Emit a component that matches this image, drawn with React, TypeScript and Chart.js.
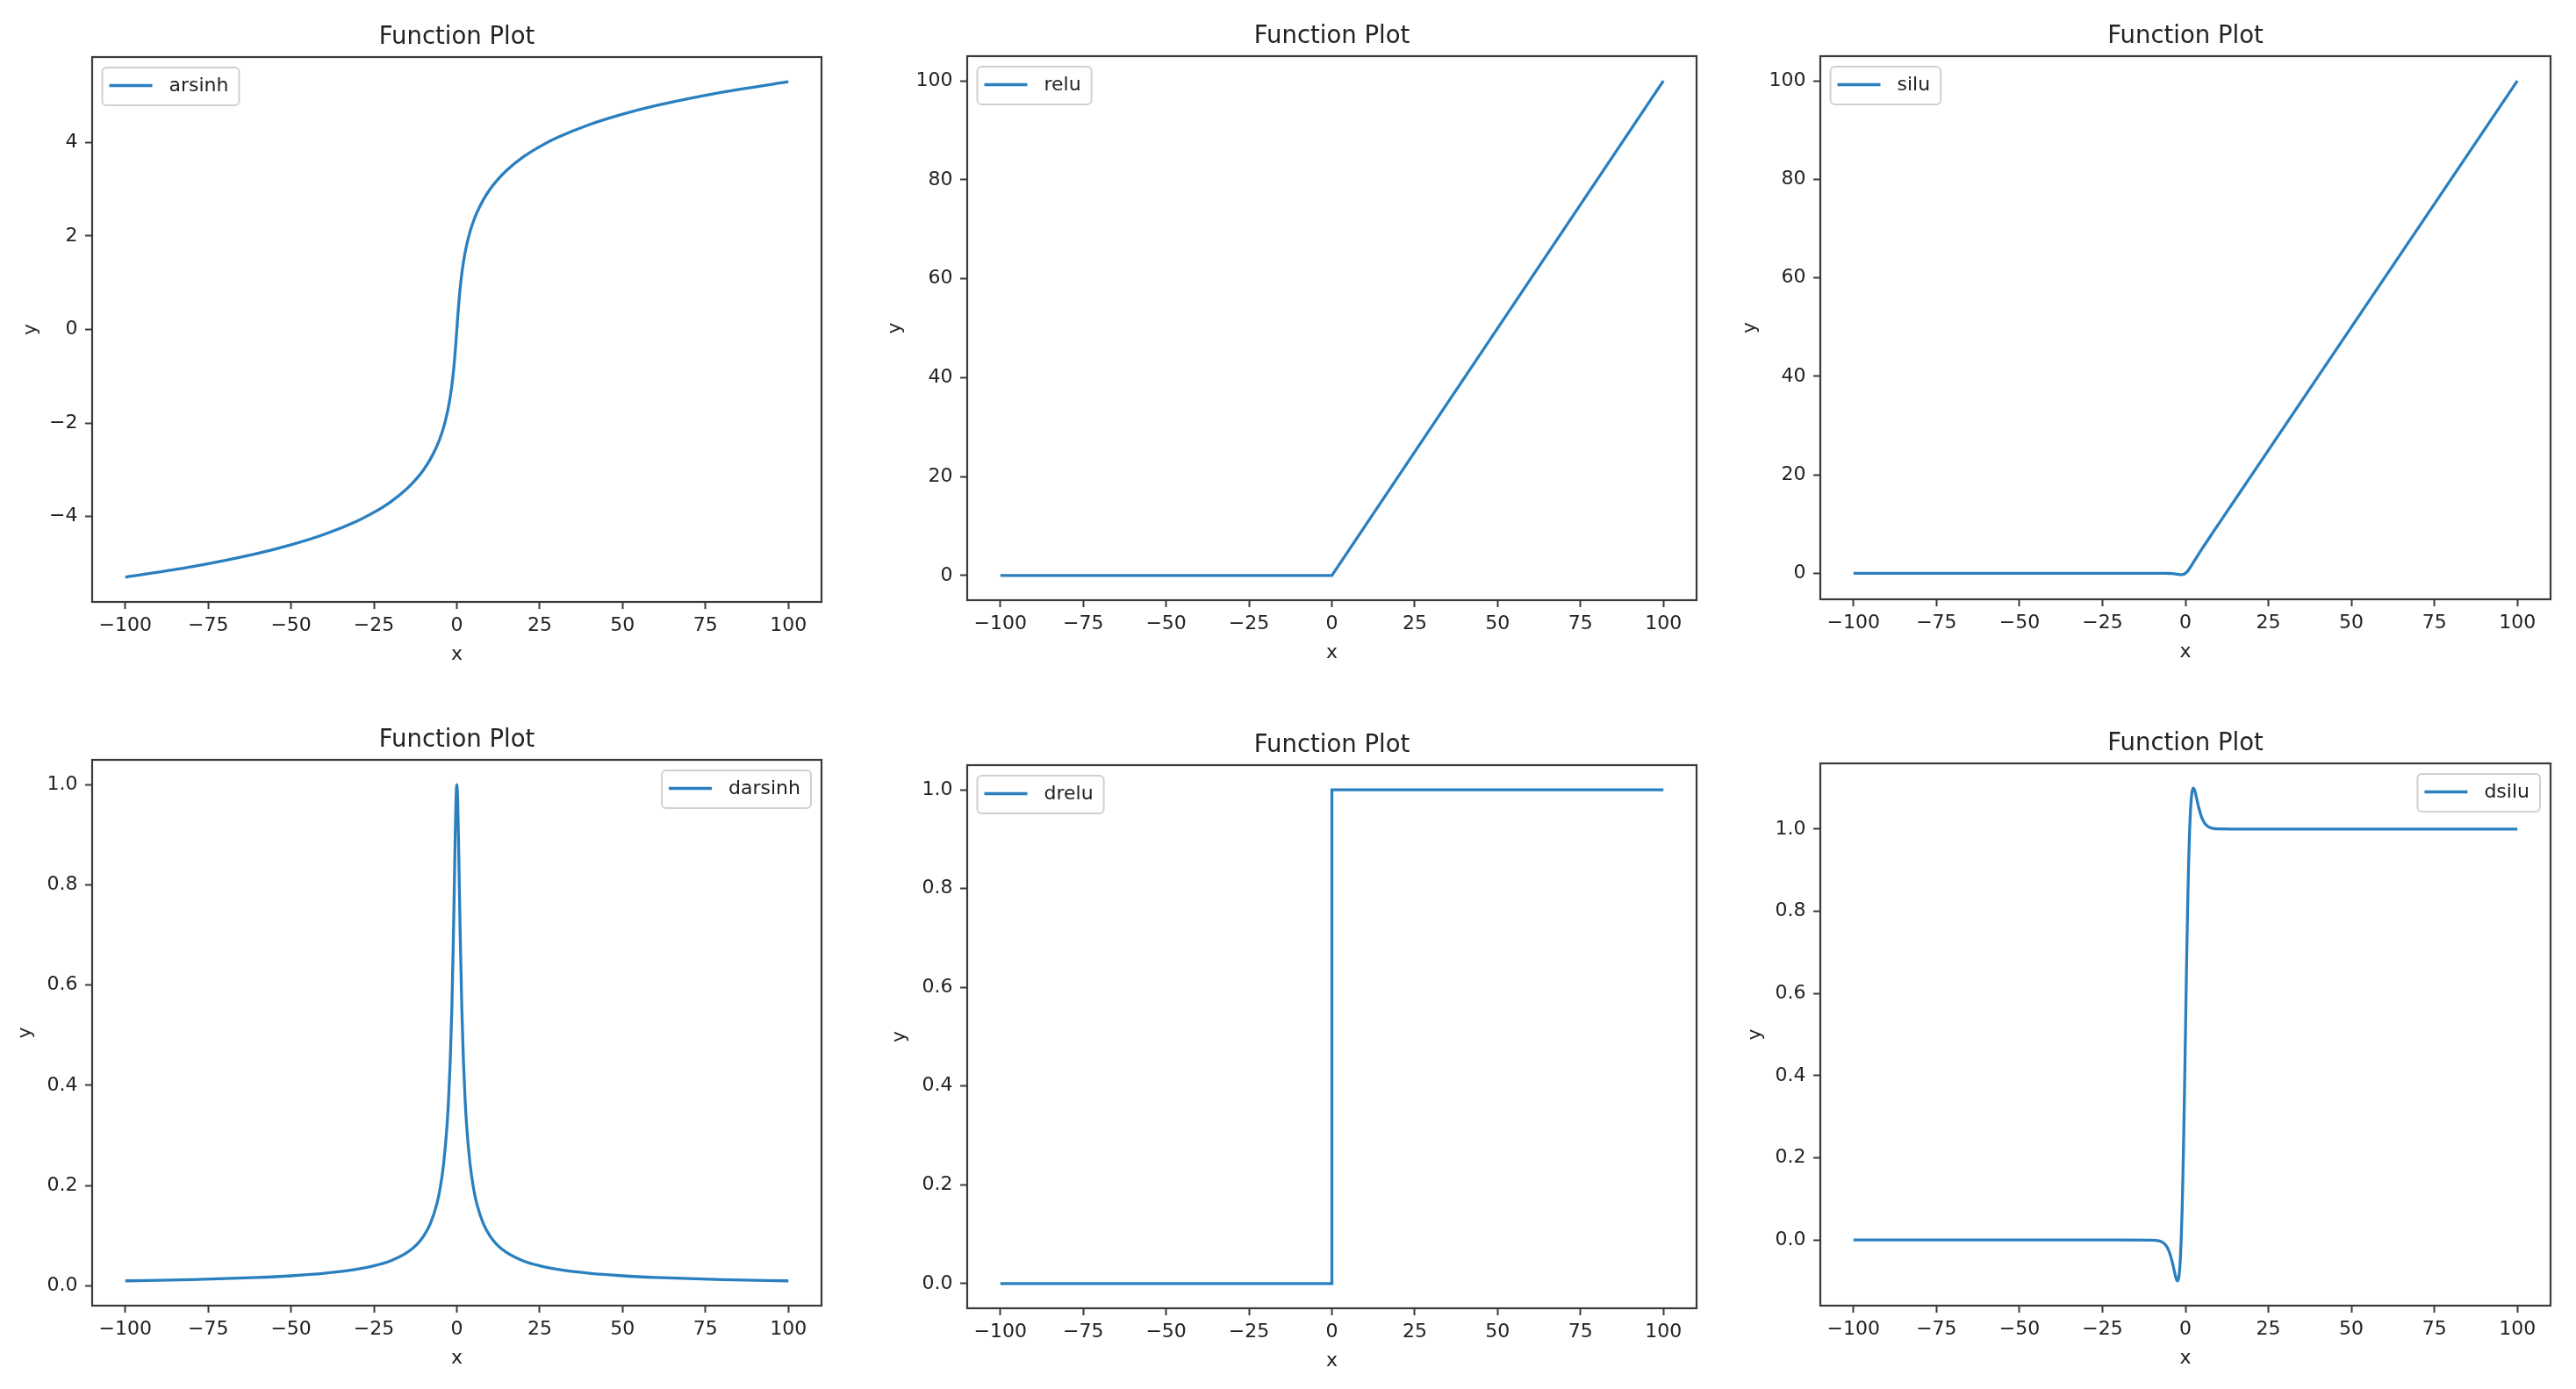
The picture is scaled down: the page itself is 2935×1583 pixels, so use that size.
import React, { useEffect, useRef } from "react";
import { Chart, registerables } from "chart.js";

Chart.register(...registerables);
Chart.defaults.font.family = '"DejaVu Sans"';

// ---------- text ----------
const TITLE = "Function Plot";
const X_LABEL = "x";
const Y_LABEL = "y";

// ---------- shared x axis ----------
const X_TICKS = [-100, -75, -50, -25, 0, 25, 50, 75, 100];
const X_TICK_LABELS = ["\u2212100", "\u221275", "\u221250", "\u221225", "0", "25", "50", "75", "100"];
const X_MIN = -110;
const X_MAX = 110;

// ---------- arsinh ----------
const ARSINH_X = [-100, -80, -60, -50, -40, -30, -25, -20, -15, -12, -10, -8, -6, -5, -4, -3, -2.5, -2, -1.5, -1, -0.75, -0.5, -0.25, 0,
  0.25, 0.5, 0.75, 1, 1.5, 2, 2.5, 3, 4, 5, 6, 8, 10, 12, 15, 20, 25, 30, 40, 50, 60, 80, 100];
const ARSINH_Y = [-5.2983, -5.0752, -4.7875, -4.6053, -4.3822, -4.0946, -3.9124, -3.6895, -3.4023, -3.1798, -2.9982, -2.7765, -2.4918, -2.3124, -2.0947, -1.8184, -1.6472, -1.4436, -1.1948, -0.8814, -0.6931, -0.4812, -0.2475, 0,
  0.2475, 0.4812, 0.6931, 0.8814, 1.1948, 1.4436, 1.6472, 1.8184, 2.0947, 2.3124, 2.4918, 2.7765, 2.9982, 3.1798, 3.4023, 3.6895, 3.9124, 4.0946, 4.3822, 4.6053, 4.7875, 5.0752, 5.2983];
const ARSINH_Y_TICKS = [-4, -2, 0, 2, 4];
const ARSINH_Y_TICK_LABELS = ["\u22124", "\u22122", "0", "2", "4"];

// ---------- relu ----------
const RELU_X = [-100, 0, 100];
const RELU_Y = [0, 0, 100];
const RELU_Y_TICKS = [0, 20, 40, 60, 80, 100];
const RELU_Y_TICK_LABELS = ["0", "20", "40", "60", "80", "100"];

// ---------- silu ----------
const SILU_X = [-100, -20, -10, -8, -6, -5, -4, -3, -2.5, -2, -1.5, -1.25, -1, -0.5, 0, 0.5, 1, 1.5, 2, 2.5, 3, 4, 5, 6, 8, 10, 20, 100];
const SILU_Y = [0, 0, -0.0005, -0.0027, -0.0148, -0.0335, -0.0719, -0.1423, -0.1896, -0.2384, -0.2736, -0.2784, -0.2689, -0.1888, 0, 0.3112, 0.7311, 1.2264, 1.7616, 2.3104, 2.8577, 3.9281, 4.9665, 5.9852, 7.9973, 9.9995, 20, 100];
const SILU_Y_TICKS = [0, 20, 40, 60, 80, 100];
const SILU_Y_TICK_LABELS = ["0", "20", "40", "60", "80", "100"];

// ---------- darsinh ----------
const DARSINH_X = [-100, -80, -60, -50, -40, -30, -25, -20, -15, -12, -10, -8, -6, -5, -4, -3, -2.5, -2, -1.5, -1, -0.75, -0.5, -0.25, 0,
  0.25, 0.5, 0.75, 1, 1.5, 2, 2.5, 3, 4, 5, 6, 8, 10, 12, 15, 20, 25, 30, 40, 50, 60, 80, 100];
const DARSINH_Y = [0.01, 0.0125, 0.0167, 0.02, 0.025, 0.0333, 0.04, 0.0499, 0.0665, 0.083, 0.0995, 0.124, 0.1644, 0.1961, 0.2425, 0.3162, 0.3714, 0.4472, 0.5547, 0.7071, 0.8, 0.8944, 0.9701, 1,
  0.9701, 0.8944, 0.8, 0.7071, 0.5547, 0.4472, 0.3714, 0.3162, 0.2425, 0.1961, 0.1644, 0.124, 0.0995, 0.083, 0.0665, 0.0499, 0.04, 0.0333, 0.025, 0.02, 0.0167, 0.0125, 0.01];
const UNIT_Y_TICKS = [0, 0.2, 0.4, 0.6, 0.8, 1.0];
const UNIT_Y_TICK_LABELS = ["0.0", "0.2", "0.4", "0.6", "0.8", "1.0"];

// ---------- drelu ----------
const DRELU_X = [-100, 0, 0, 100];
const DRELU_Y = [0, 0, 1, 1];

// ---------- dsilu ----------
const DSILU_X = [-100, -20, -10, -8, -7, -6, -5, -4, -3.5, -3, -2.8, -2.4, -2, -1.75, -1.5, -1.25, -1, -0.75, -0.5, -0.25, 0,
  0.25, 0.5, 0.75, 1, 1.25, 1.5, 1.75, 2, 2.4, 2.8, 3, 3.5, 4, 5, 6, 7, 8, 10, 20, 100];
const DSILU_Y = [0, 0, -0.0004, -0.0023, -0.0055, -0.0123, -0.0265, -0.0527, -0.0703, -0.0881, -0.094, -0.0998, -0.0908, -0.0727, -0.0413, 0.0063, 0.0723, 0.1574, 0.26, 0.3763, 0.5,
  0.6237, 0.74, 0.8426, 0.9277, 0.9937, 1.0413, 1.0727, 1.0908, 1.0998, 1.094, 1.0881, 1.0703, 1.0527, 1.0265, 1.0123, 1.0055, 1.0023, 1.0004, 1, 1];

// ---------- panel definitions ----------
type Box = { l: number; t: number; r: number; b: number };
type PanelSpec = {
  label: string;
  xs: number[];
  ys: number[];
  yTicks: number[];
  yTickLabels: string[];
  yMin: number;
  yMax: number;
  smooth: boolean;
  legendSide: "left" | "right";
  box: Box;
  yLabelOffset: number;
};

const PANELS: PanelSpec[] = [
  { label: "arsinh", xs: ARSINH_X, ys: ARSINH_Y, yTicks: ARSINH_Y_TICKS, yTickLabels: ARSINH_Y_TICK_LABELS, yMin: -5.828, yMax: 5.828, smooth: true, legendSide: "left", box: { l: 105, t: 65, r: 936, b: 686 }, yLabelOffset: 70 },
  { label: "relu", xs: RELU_X, ys: RELU_Y, yTicks: RELU_Y_TICKS, yTickLabels: RELU_Y_TICK_LABELS, yMin: -5, yMax: 105, smooth: false, legendSide: "left", box: { l: 1102, t: 64, r: 1933, b: 684 }, yLabelOffset: 82 },
  { label: "silu", xs: SILU_X, ys: SILU_Y, yTicks: SILU_Y_TICKS, yTickLabels: SILU_Y_TICK_LABELS, yMin: -5.292, yMax: 105.014, smooth: true, legendSide: "left", box: { l: 2074, t: 64, r: 2906, b: 683 }, yLabelOffset: 80 },
  { label: "darsinh", xs: DARSINH_X, ys: DARSINH_Y, yTicks: UNIT_Y_TICKS, yTickLabels: UNIT_Y_TICK_LABELS, yMin: -0.0395, yMax: 1.0495, smooth: true, legendSide: "right", box: { l: 105, t: 866, r: 936, b: 1488 }, yLabelOffset: 76 },
  { label: "drelu", xs: DRELU_X, ys: DRELU_Y, yTicks: UNIT_Y_TICKS, yTickLabels: UNIT_Y_TICK_LABELS, yMin: -0.05, yMax: 1.05, smooth: false, legendSide: "left", box: { l: 1102, t: 872, r: 1933, b: 1491 }, yLabelOffset: 77 },
  { label: "dsilu", xs: DSILU_X, ys: DSILU_Y, yTicks: UNIT_Y_TICKS, yTickLabels: UNIT_Y_TICK_LABELS, yMin: -0.16, yMax: 1.16, smooth: true, legendSide: "right", box: { l: 2074, t: 870, r: 2906, b: 1488 }, yLabelOffset: 74 },
];

// ---------- styles ----------
const LINE_COLOR = "#2a7fbf";
const TEXT_COLOR = "#222222";
const SPINE_COLOR = "#3a3a3a";
const PAD_LEFT = 105;
const PAD_TOP = 65;
const PAD_RIGHT = 25;
const PAD_BOTTOM = 90;

function roundRectPath(ctx: CanvasRenderingContext2D, x: number, y: number, w: number, h: number, r: number) {
  ctx.beginPath();
  ctx.moveTo(x + r, y);
  ctx.lineTo(x + w - r, y);
  ctx.arcTo(x + w, y, x + w, y + r, r);
  ctx.lineTo(x + w, y + h - r);
  ctx.arcTo(x + w, y + h, x + w - r, y + h, r);
  ctx.lineTo(x + r, y + h);
  ctx.arcTo(x, y + h, x, y + h - r, r);
  ctx.lineTo(x, y + r);
  ctx.arcTo(x, y, x + r, y, r);
  ctx.closePath();
}

function Panel({ spec }: { spec: PanelSpec }) {
  const ref = useRef<HTMLCanvasElement | null>(null);
  const bw = spec.box.r - spec.box.l;
  const bh = spec.box.b - spec.box.t;
  const cl = spec.box.l - PAD_LEFT;
  const ct = spec.box.t - PAD_TOP;
  const cw = bw + PAD_LEFT + PAD_RIGHT;
  const ch = bh + PAD_TOP + PAD_BOTTOM;

  useEffect(() => {
    if (!ref.current) return;
    const decor = {
      id: "decor",
      afterDraw(chart: any) {
        const ctx: CanvasRenderingContext2D = chart.ctx;
        const a = chart.chartArea;
        const cx = (a.left + a.right) / 2;
        const cy = (a.top + a.bottom) / 2;
        ctx.save();
        // spines
        ctx.strokeStyle = SPINE_COLOR;
        ctx.lineWidth = 2.2;
        ctx.strokeRect(a.left, a.top, a.right - a.left, a.bottom - a.top);
        // title
        ctx.fillStyle = TEXT_COLOR;
        ctx.font = '27.5px "DejaVu Sans"';
        ctx.textAlign = "center";
        ctx.textBaseline = "alphabetic";
        ctx.fillText(TITLE, cx, a.top - 15);
        // axis labels
        ctx.font = '22px "DejaVu Sans"';
        ctx.textBaseline = "middle";
        ctx.fillText(X_LABEL, cx, a.bottom + 60);
        ctx.save();
        ctx.translate(a.left - spec.yLabelOffset, cy);
        ctx.rotate(-Math.PI / 2);
        ctx.fillText(Y_LABEL, 0, 0);
        ctx.restore();
        // legend
        const tw = ctx.measureText(spec.label).width;
        const w = 76 + tw + 12;
        const h = 43;
        const lx = spec.legendSide === "left" ? a.left + 11.5 : a.right - 12 - w;
        const ly = a.top + 12;
        roundRectPath(ctx, lx, ly, w, h, 5);
        ctx.fillStyle = "rgba(255,255,255,0.8)";
        ctx.fill();
        ctx.strokeStyle = "#d0d0d0";
        ctx.lineWidth = 2;
        ctx.stroke();
        ctx.strokeStyle = LINE_COLOR;
        ctx.lineWidth = 3.3;
        ctx.beginPath();
        ctx.moveTo(lx + 8, ly + h / 2 - 1);
        ctx.lineTo(lx + 57, ly + h / 2 - 1);
        ctx.stroke();
        ctx.fillStyle = TEXT_COLOR;
        ctx.textAlign = "left";
        ctx.fillText(spec.label, lx + 76, ly + h / 2);
        ctx.restore();
      },
    };

    const points = spec.xs.map((x, i) => ({ x, y: spec.ys[i] }));
    const tickFont = { family: '"DejaVu Sans"', size: 22 };
    const gridOpts = {
      display: true,
      drawOnChartArea: false,
      drawTicks: true,
      tickLength: 8,
      tickWidth: 2,
      tickColor: SPINE_COLOR,
      color: SPINE_COLOR,
    };

    const chart = new Chart(ref.current, {
      type: "line",
      data: {
        datasets: [
          {
            label: spec.label,
            data: points,
            borderColor: LINE_COLOR,
            backgroundColor: LINE_COLOR,
            borderWidth: 3.3,
            pointRadius: 0,
            fill: false,
            cubicInterpolationMode: spec.smooth ? "monotone" : "default",
            tension: 0,
          } as any,
        ],
      },
      options: {
        animation: false,
        responsive: false,
        devicePixelRatio: 1,
        events: [],
        layout: { padding: { left: 0, top: PAD_TOP, right: PAD_RIGHT, bottom: 0 } },
        plugins: {
          legend: { display: false },
          title: { display: false },
          tooltip: { enabled: false },
        },
        scales: {
          x: {
            type: "linear",
            min: X_MIN,
            max: X_MAX,
            grid: gridOpts,
            border: { display: false },
            afterBuildTicks: (scale: any) => {
              scale.ticks = X_TICKS.map((v) => ({ value: v }));
            },
            afterFit: (scale: any) => {
              scale.height = PAD_BOTTOM;
            },
            ticks: {
              autoSkip: false,
              maxRotation: 0,
              minRotation: 0,
              padding: 6,
              color: TEXT_COLOR,
              font: tickFont,
              callback: (_v: any, i: number) => X_TICK_LABELS[i],
            },
          },
          y: {
            type: "linear",
            min: spec.yMin,
            max: spec.yMax,
            grid: gridOpts,
            border: { display: false },
            afterBuildTicks: (scale: any) => {
              scale.ticks = spec.yTicks.map((v) => ({ value: v }));
            },
            afterFit: (scale: any) => {
              scale.width = PAD_LEFT;
            },
            ticks: {
              autoSkip: false,
              padding: 8.5,
              color: TEXT_COLOR,
              font: tickFont,
              callback: (_v: any, i: number) => spec.yTickLabels[i],
            },
          },
        },
      } as any,
      plugins: [decor],
    });
    return () => chart.destroy();
  }, []);

  return (
    <canvas
      ref={ref}
      width={cw}
      height={ch}
      style={{ position: "absolute", left: cl, top: ct, width: cw, height: ch, display: "block" }}
    />
  );
}

export default function App() {
  return (
    <div style={{ position: "absolute", left: 0, top: 0, width: 2935, height: 1583, background: "#ffffff", overflow: "hidden" }}>
      {PANELS.map((p) => (
        <Panel key={p.label} spec={p} />
      ))}
    </div>
  );
}
